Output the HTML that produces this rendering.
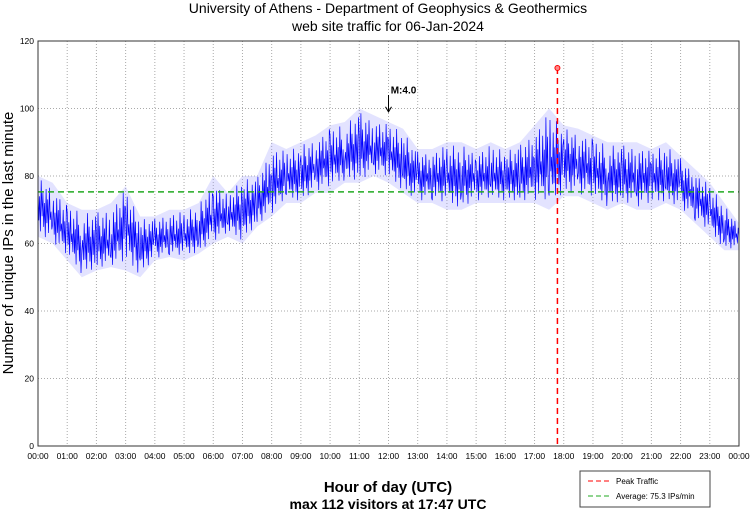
<!DOCTYPE html>
<html><head><meta charset="utf-8"><style>
body{margin:0;background:#fff;font-family:"Liberation Sans",sans-serif}
</style></head><body>
<svg id="c" width="750" height="511" xmlns="http://www.w3.org/2000/svg" font-family="Liberation Sans, sans-serif">
<text x="388" y="13" font-size="14" text-anchor="middle">University of Athens - Department of Geophysics &amp; Geothermics</text>
<text x="388" y="31" font-size="14" text-anchor="middle">web site traffic for 06-Jan-2024</text>
<text transform="translate(13,243) rotate(-90)" font-size="15" text-anchor="middle">Number of unique IPs in the last minute</text>
<text x="388" y="492" font-size="15" font-weight="bold" text-anchor="middle">Hour of day (UTC)</text>
<text x="388" y="509" font-size="14" font-weight="bold" text-anchor="middle">max 112 visitors at 17:47 UTC</text>
<g id="grid"></g><g id="series"></g><g id="overlay"></g>
<rect x="38" y="41" width="701" height="405" fill="none" stroke="#333" stroke-width="1"/>
<g>
<rect x="580" y="471" width="130" height="36" fill="#fff" stroke="#444"/>
<line x1="588" y1="481" x2="612" y2="481" stroke="#f00" stroke-dasharray="5,3"/>
<text x="616" y="484" font-size="8">Peak Traffic</text>
<line x1="588" y1="496" x2="612" y2="496" stroke="#2a2" stroke-dasharray="5,3"/>
<text x="616" y="499" font-size="8">Average: 75.3 IPs/min</text>
</g>
</svg>
<script>
const hours=["00:00","01:00","02:00","03:00","04:00","05:00","06:00","07:00","08:00","09:00","10:00","11:00","12:00","13:00","14:00","15:00","16:00","17:00","18:00","19:00","20:00","21:00","22:00","23:00","00:00"];
const yTicks=[0,20,40,60,80,100,120];
const meanVals=[72,68,63,60,60,60,66,60,61,62,62,64,68,68,70,72,77,80,80,83,85,86,88,88,87,84,80,80,80,80,80,80,80,80,82,84,85,84,82,80,80,80,80,80,78,74,70,65,62];
const loVals=[62,60,55,50,52,53,52,50,55,56,55,57,60,62,60,65,68,72,72,75,75,78,78,80,78,75,72,72,70,70,72,72,72,72,72,70,74,74,72,70,72,70,70,72,70,66,62,58,58];
const hiVals=[80,78,72,70,70,72,77,68,68,70,70,72,80,75,80,80,90,88,90,92,95,96,100,98,96,94,88,88,90,90,88,90,88,90,95,100,95,94,92,90,90,90,88,90,86,82,78,72,66];
const peakHour=17+47/60, peakVal=112, avgVal=75.3;
const NS="http://www.w3.org/2000/svg";
const X=h=>38+h*(701/24), Y=v=>446-v*(405/120);
function mk(t,a,p){const e=document.createElementNS(NS,t);for(const k in a)e.setAttribute(k,a[k]);p.appendChild(e);return e;}
const grid=document.getElementById('grid'),ser=document.getElementById('series'),ov=document.getElementById('overlay'),svg=document.getElementById('c');
hours.forEach((h,i)=>{
 if(i>0&&i<24){const l=mk('line',{x1:X(i),x2:X(i),y1:41,y2:446,stroke:'#aaa','stroke-dasharray':'1,2'},grid);
 
 }
 const t=mk('text',{x:X(i),y:459,'font-size':8.5,'text-anchor':'middle'},svg);t.textContent=h;
 
 
});
yTicks.forEach(v=>{
 if(v>0&&v<120){const l=mk('line',{x1:38,x2:739,y1:Y(v),y2:Y(v),stroke:'#aaa','stroke-dasharray':'1,2'},grid);
 
 }
 const t=mk('text',{x:34,y:Y(v)+3,'font-size':8.5,'text-anchor':'end'},svg);t.textContent=v;
 
 
});
let up=[],dn=[];
for(let i=0;i<meanVals.length;i++){up.push(X(i/2)+','+Y(hiVals[i]));dn.unshift(X(i/2)+','+Y(loVals[i]));}
const band=mk('polygon',{points:up.concat(dn).join(' '),fill:'#9090ff','fill-opacity':0.25},ser);


let pts=[];
const sh=[0.6,-0.5,0.3,-0.8,0.9,-0.3,0.5,-0.6,0.2,-0.9,0.7,-0.4,0.4,-0.7,0.8,-0.2,0.1,-0.5];
for(let i=0;i<meanVals.length-1;i++){
 for(let k=0;k<18;k++){const f=k/18,h=(i+f)/2;
  const m=meanVals[i]+(meanVals[i+1]-meanVals[i])*f;
  const hi=hiVals[i]+(hiVals[i+1]-hiVals[i])*f, lo=loVals[i]+(loVals[i+1]-loVals[i])*f;
  const s=sh[(k+i*5)%18];
  const v=s>0?m+s*(hi-m):m+s*(m-lo);
  pts.push(X(h).toFixed(1)+','+Y(v).toFixed(1));}
}
pts.push(X(24)+','+Y(meanVals[meanVals.length-1]));
const ln=mk('polyline',{points:pts.join(' '),fill:'none',stroke:'#0000ff','stroke-width':0.7},ser);


const av=mk('line',{x1:38,x2:739,y1:Y(avgVal),y2:Y(avgVal),stroke:'#22aa22','stroke-width':1.5,'stroke-dasharray':'6,4'},ov);


const pk=mk('line',{x1:X(peakHour),x2:X(peakHour),y1:Y(peakVal),y2:Y(0),stroke:'#f00','stroke-width':1.5,'stroke-dasharray':'6,4'},ov);


const pc=mk('circle',{cx:X(peakHour),cy:Y(peakVal),r:2.5,fill:'#f88',stroke:'#f00'},ov);


const ar=mk('path',{d:`M${X(12)},${Y(104)} V${Y(99)} M${X(12)-3},${Y(100.5)} L${X(12)},${Y(99)} L${X(12)+3},${Y(100.5)}`,stroke:'#000',fill:'none'},ov);


const at=mk('text',{x:X(12)+15,y:Y(105)+2,'font-size':10,'font-weight':'bold','text-anchor':'middle'},ov);at.textContent='M:4.0';


</script>
</body></html>
